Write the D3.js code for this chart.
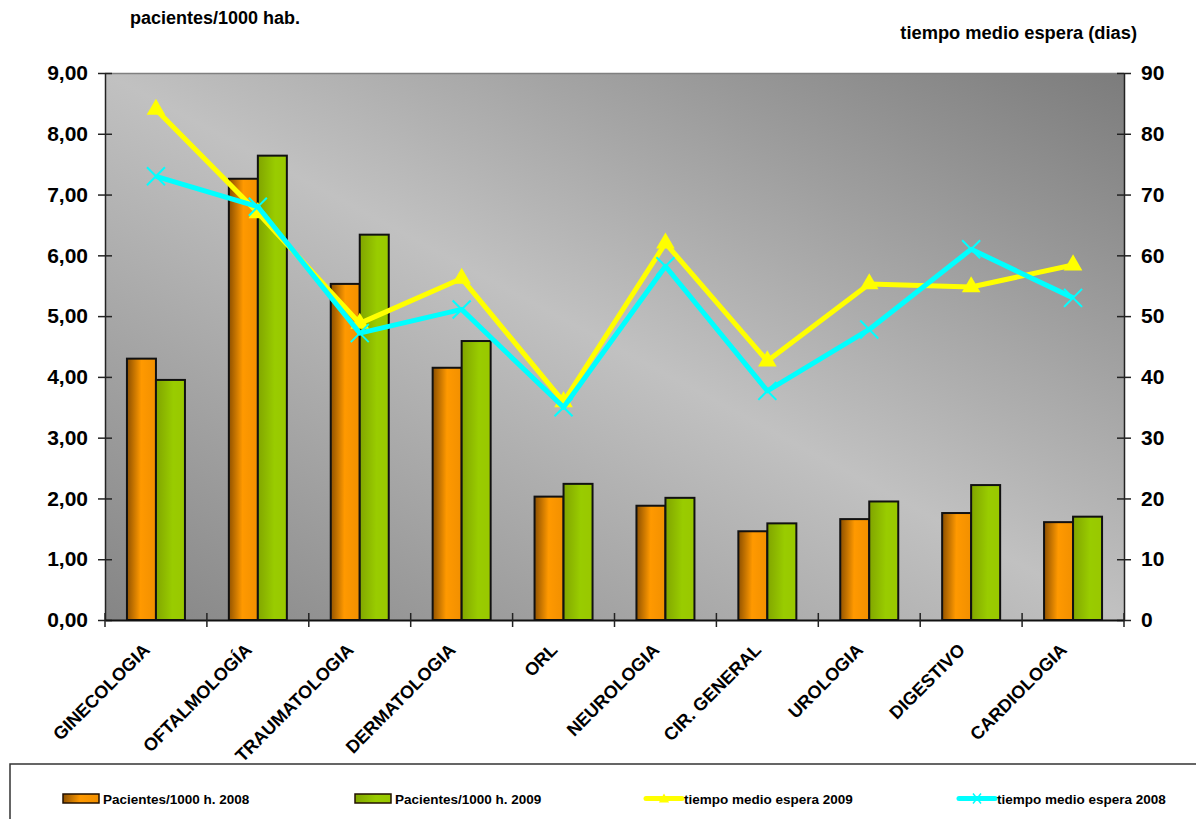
<!DOCTYPE html>
<html>
<head>
<meta charset="utf-8">
<script src="https://cdn.jsdelivr.net/npm/d3@7"></script>
<style>
  body { margin: 0; background: #fff; }
  svg { display: block; font-family: "Liberation Sans", Arial, sans-serif; font-weight: bold; }
</style>
</head>
<body>
<svg></svg>
<script>
let categories = ["GINECOLOGIA", "OFTALMOLOGÍA", "TRAUMATOLOGIA", "DERMATOLOGIA", "ORL",
  "NEUROLOGIA", "CIR. GENERAL", "UROLOGIA", "DIGESTIVO", "CARDIOLOGIA"];
let pacientes2008 = [4.30, 7.26, 5.53, 4.15, 2.03, 1.88, 1.46, 1.66, 1.76, 1.61];
let pacientes2009 = [3.95, 7.64, 6.34, 4.59, 2.24, 2.01, 1.59, 1.95, 2.22, 1.70];
let espera2009 = [84.0, 67.0, 48.8, 56.2, 35.9, 62.0, 42.6, 55.3, 54.8, 58.4];
let espera2008 = [73.0, 68.0, 47.2, 51.1, 35.0, 58.2, 37.7, 47.8, 61.0, 53.0];
let leftTicks = [0, 1, 2, 3, 4, 5, 6, 7, 8, 9];
let rightTicks = [0, 10, 20, 30, 40, 50, 60, 70, 80, 90];
let barSeries = ["Pacientes/1000 h. 2008", "Pacientes/1000 h. 2009"];
let lineSeries = ["tiempo medio espera 2009", "tiempo medio espera 2008"];

let width = 1196;
let height = 819;
let plot = { left: 105, right: 1124, top: 73, bottom: 620 };

let xScale, x1Scale, yLeft, yRight;

let svg = d3.select("svg");
let defs;

let drawCanvas = () => {
  svg.attr("width", width).attr("height", height);
  defs = svg.append("defs");

  // plot area background: dark corners, light diagonal band
  let bg = defs.append("linearGradient").attr("id", "bg")
    .attr("x1", 0).attr("y1", 1).attr("x2", 1).attr("y2", 0);
  bg.append("stop").attr("offset", 0).attr("stop-color", "#858585");
  bg.append("stop").attr("offset", 0.5).attr("stop-color", "#c1c1c1");
  bg.append("stop").attr("offset", 1).attr("stop-color", "#7c7c7c");

  let orange = defs.append("linearGradient").attr("id", "orange")
    .attr("x1", 0).attr("y1", 0).attr("x2", 1).attr("y2", 0.04);
  orange.append("stop").attr("offset", 0).attr("stop-color", "#8a4e00");
  orange.append("stop").attr("offset", 0.5).attr("stop-color", "#ff9900");
  orange.append("stop").attr("offset", 1).attr("stop-color", "#f29000");

  let green = defs.append("linearGradient").attr("id", "green")
    .attr("x1", 0).attr("y1", 0).attr("x2", 1).attr("y2", 0.04);
  green.append("stop").attr("offset", 0).attr("stop-color", "#80a400");
  green.append("stop").attr("offset", 0.6).attr("stop-color", "#99cc00");
  green.append("stop").attr("offset", 1).attr("stop-color", "#99c800");

  svg.append("rect")
    .attr("x", plot.left).attr("y", plot.top)
    .attr("width", plot.right - plot.left).attr("height", plot.bottom - plot.top)
    .attr("fill", "url(#bg)");

  svg.append("line")
    .attr("x1", plot.left).attr("x2", plot.right)
    .attr("y1", plot.top + 0.5).attr("y2", plot.top + 0.5)
    .attr("stroke", "#808080").attr("stroke-width", 1.5);
};

let generateScales = () => {
  xScale = d3.scaleBand().domain(categories).range([plot.left, plot.right]).padding(0);
  x1Scale = d3.scaleBand().domain(barSeries).range([0, xScale.bandwidth()])
    .paddingInner(0).paddingOuter(0.757);
  yLeft = d3.scaleLinear().domain([0, 9]).range([plot.bottom, plot.top]);
  yRight = d3.scaleLinear().domain([0, 90]).range([plot.bottom, plot.top]);
};

let drawBars = () => {
  let rows = categories.map((c, i) => ({ cat: c, v: [pacientes2008[i], pacientes2009[i]] }));
  let fills = ["url(#orange)", "url(#green)"];

  svg.append("g")
    .selectAll("g")
    .data(rows)
    .enter()
    .append("g")
    .attr("transform", (d) => "translate(" + xScale(d.cat) + ",0)")
    .selectAll("rect")
    .data((d) => d.v.map((v, j) => ({ key: barSeries[j], v: v, j: j })))
    .enter()
    .append("rect")
    .attr("x", (d) => x1Scale(d.key))
    .attr("y", (d) => yLeft(d.v))
    .attr("width", x1Scale.bandwidth())
    .attr("height", (d) => yLeft(0) - yLeft(d.v))
    .attr("fill", (d) => fills[d.j])
    .attr("stroke", "#111")
    .attr("stroke-width", 2);
};

let drawLines = () => {
  let cx = (i) => xScale(categories[i]) + xScale.bandwidth() / 2;

  // 2009 first, 2008 lies on top of it
  let line09 = d3.line().x((d, i) => cx(i)).y((d) => yRight(d));
  svg.append("path")
    .datum(espera2009)
    .attr("d", line09)
    .attr("fill", "none")
    .attr("stroke", "#ffff00")
    .attr("stroke-width", 5)
    .attr("stroke-linejoin", "round");

  svg.append("g")
    .selectAll("path")
    .data(espera2009)
    .enter()
    .append("path")
    .attr("d", d3.symbol(d3.symbolTriangle, 150))
    .attr("transform", (d, i) => "translate(" + cx(i) + "," + yRight(d) + ")")
    .attr("fill", "#ffff00");

  svg.append("path")
    .datum(espera2008)
    .attr("d", line09)
    .attr("fill", "none")
    .attr("stroke", "#00ffff")
    .attr("stroke-width", 5)
    .attr("stroke-linejoin", "round");

  svg.append("g")
    .selectAll("path")
    .data(espera2008)
    .enter()
    .append("path")
    .attr("d", "M-9,-9L9,9M-9,9L9,-9")
    .attr("transform", (d, i) => "translate(" + cx(i) + "," + yRight(d) + ")")
    .attr("stroke", "#00ffff")
    .attr("stroke-width", 2);
};

let generateAxis = () => {
  let yAxisL = d3.axisLeft(yLeft).tickValues(leftTicks)
    .tickFormat((d) => d3.format(".2f")(d).replace(".", ","))
    .tickSizeInner(7).tickSizeOuter(0).tickPadding(10);
  let gl = svg.append("g")
    .attr("transform", "translate(" + plot.left + ",0)")
    .call(yAxisL);

  let yAxisR = d3.axisRight(yRight).tickValues(rightTicks)
    .tickSizeInner(7).tickSizeOuter(0).tickPadding(10);
  let gr = svg.append("g")
    .attr("transform", "translate(" + plot.right + ",0)")
    .call(yAxisR);

  let xAxis = d3.axisBottom(xScale).tickSize(0).tickFormat("");
  let gx = svg.append("g")
    .attr("transform", "translate(0," + plot.bottom + ")")
    .call(xAxis);

  // category separator ticks crossing the axis
  let edges = categories.map((c) => xScale(c)).concat([plot.right]);
  svg.append("g")
    .selectAll("line")
    .data(edges)
    .enter()
    .append("line")
    .attr("x1", (d) => d).attr("x2", (d) => d)
    .attr("y1", plot.bottom - 7).attr("y2", plot.bottom + 7)
    .attr("stroke", "#222").attr("stroke-width", 1.5);

  // ticks cross the axis line
  [gl, gr].forEach((g) => {
    g.selectAll(".tick line")
      .attr("x1", (g === gl) ? 7 : -7)
      .attr("stroke", "#222").attr("stroke-width", 1.5);
    g.selectAll(".tick text").attr("font-size", 21).attr("fill", "#000")
      .attr("font-family", "'Liberation Sans', Arial, sans-serif").attr("font-weight", "bold");
    g.select(".domain").attr("stroke", "#222").attr("stroke-width", 1.5);
  });
  gx.select(".domain").attr("stroke", "#111").attr("stroke-width", 2);

  svg.append("g")
    .selectAll("text")
    .data(categories)
    .enter()
    .append("text")
    .attr("transform", (d) => "translate(" + (xScale(d) + xScale.bandwidth() / 2 - 5) + "," + (plot.bottom + 31) + ") rotate(-45)")
    .attr("text-anchor", "end")
    .attr("font-size", 18)
    .text((d) => d);

  svg.append("text")
    .attr("x", 130).attr("y", 24)
    .attr("font-size", 18)
    .text("pacientes/1000 hab.");

  svg.append("text")
    .attr("x", 1137).attr("y", 39)
    .attr("text-anchor", "end")
    .attr("font-size", 18.3)
    .text("tiempo medio espera (dias)");
};

let drawLegend = () => {
  svg.append("rect")
    .attr("x", 10).attr("y", 764)
    .attr("width", 1200).attr("height", 100)
    .attr("fill", "#fff")
    .attr("stroke", "#333").attr("stroke-width", 1.5);

  let ly = 798.5;
  let items = [
    { name: barSeries[0], x: 63, kind: "bar", fill: "url(#orange)" },
    { name: barSeries[1], x: 355, kind: "bar", fill: "url(#green)" },
    { name: lineSeries[0], x: 644, kind: "tri", color: "#ffff00" },
    { name: lineSeries[1], x: 957, kind: "x", color: "#00ffff" }
  ];

  let g = svg.append("g")
    .selectAll("g")
    .data(items)
    .enter()
    .append("g")
    .attr("transform", (d) => "translate(" + d.x + "," + ly + ")");

  g.filter((d) => d.kind === "bar")
    .append("rect")
    .attr("x", 0).attr("y", -4.5)
    .attr("width", 36).attr("height", 9)
    .attr("fill", (d) => d.fill)
    .attr("stroke", "#221100").attr("stroke-width", 1.5);

  g.filter((d) => d.kind !== "bar")
    .append("line")
    .attr("x1", 2).attr("x2", 38)
    .attr("stroke", (d) => d.color)
    .attr("stroke-width", 5)
    .attr("stroke-linecap", "round");

  g.filter((d) => d.kind === "tri")
    .append("path")
    .attr("d", d3.symbol(d3.symbolTriangle, 45))
    .attr("transform", "translate(20,1)")
    .attr("fill", "#ffff00");

  g.filter((d) => d.kind === "x")
    .append("path")
    .attr("d", "M-4,-5L4,5M-4,5L4,-5")
    .attr("transform", "translate(20,0)")
    .attr("stroke", "#00ffff").attr("stroke-width", 1.5);

  g.append("text")
    .attr("x", (d) => d.kind === "bar" ? 40 : 40)
    .attr("y", 5)
    .attr("font-size", 13.5)
    .text((d) => d.name);
};

drawCanvas();
generateScales();
drawBars();
drawLines();
generateAxis();
drawLegend();
</script>
</body>
</html>
